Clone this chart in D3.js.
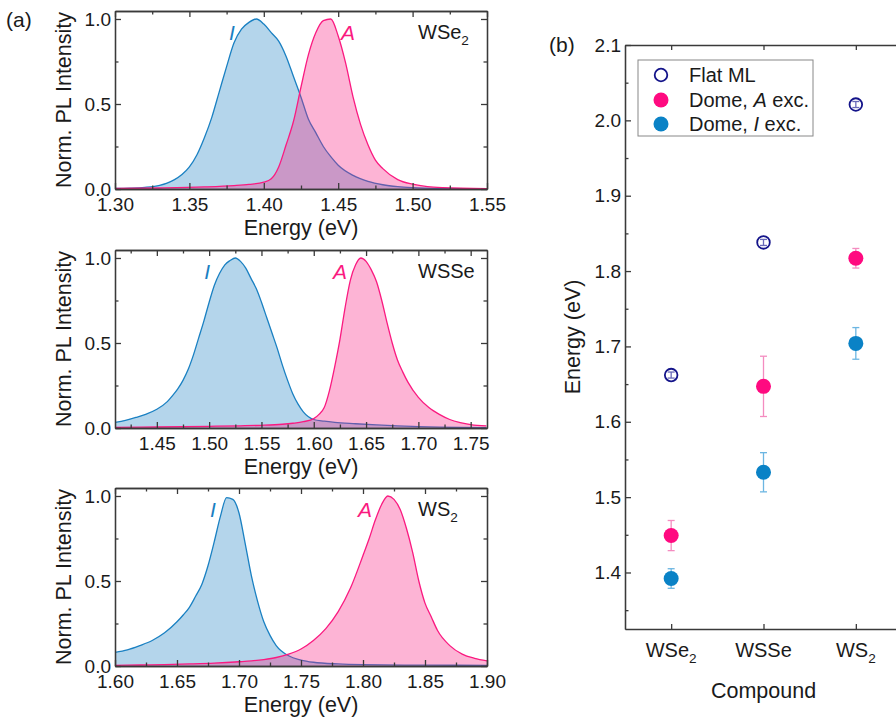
<!DOCTYPE html>
<html>
<head>
<meta charset="utf-8">
<script src="https://cdn.jsdelivr.net/npm/d3@7"></script>
<style>
  body { margin: 0; background: #fff; }
  text { font-family: "Liberation Sans", Arial, sans-serif; fill: #1a1a1a; }
</style>
</head>
<body>
<svg id="chart" width="896" height="718"></svg>
<script>
// ---- panel (a): normalized PL spectra ----
// WSe2
const wse2IEnergy = [1.30, 1.31, 1.32, 1.33, 1.335, 1.34, 1.345, 1.35, 1.355, 1.36, 1.365, 1.37, 1.375, 1.38, 1.385, 1.39, 1.395, 1.40, 1.405, 1.41, 1.415, 1.42, 1.425, 1.43, 1.435, 1.44, 1.445, 1.45, 1.46, 1.47, 1.48, 1.49, 1.50, 1.52, 1.55];
const wse2IIntensity = [0.003, 0.005, 0.01, 0.022, 0.035, 0.055, 0.085, 0.13, 0.2, 0.3, 0.42, 0.57, 0.72, 0.86, 0.94, 0.98, 1.0, 0.97, 0.92, 0.87, 0.78, 0.66, 0.54, 0.41, 0.33, 0.25, 0.19, 0.14, 0.08, 0.045, 0.025, 0.014, 0.008, 0.003, 0.001];
const wse2AEnergy = [1.30, 1.33, 1.36, 1.38, 1.39, 1.40, 1.405, 1.41, 1.415, 1.42, 1.425, 1.43, 1.435, 1.44, 1.445, 1.45, 1.455, 1.46, 1.465, 1.47, 1.475, 1.48, 1.49, 1.50, 1.51, 1.52, 1.55];
const wse2AIntensity = [0.003, 0.006, 0.012, 0.02, 0.027, 0.04, 0.06, 0.13, 0.26, 0.4, 0.6, 0.79, 0.92, 0.99, 1.0, 0.9, 0.74, 0.54, 0.38, 0.26, 0.17, 0.12, 0.055, 0.028, 0.014, 0.008, 0.002];

// WSSe
const wsseIEnergy = [1.41, 1.42, 1.43, 1.44, 1.45, 1.46, 1.465, 1.47, 1.475, 1.48, 1.485, 1.49, 1.495, 1.50, 1.505, 1.51, 1.515, 1.52, 1.525, 1.53, 1.535, 1.54, 1.545, 1.55, 1.555, 1.56, 1.565, 1.57, 1.575, 1.58, 1.585, 1.59, 1.60, 1.61, 1.62, 1.64, 1.66, 1.68, 1.70, 1.72, 1.74, 1.765];
const wsseIIntensity = [0.033, 0.045, 0.062, 0.082, 0.11, 0.155, 0.19, 0.23, 0.28, 0.345, 0.43, 0.53, 0.63, 0.74, 0.84, 0.91, 0.96, 0.985, 1.0, 0.98, 0.94, 0.88, 0.82, 0.74, 0.65, 0.56, 0.47, 0.37, 0.28, 0.2, 0.14, 0.095, 0.05, 0.04, 0.033, 0.025, 0.018, 0.012, 0.008, 0.005, 0.003, 0.002];
const wsseAEnergy = [1.41, 1.45, 1.50, 1.53, 1.55, 1.57, 1.58, 1.59, 1.60, 1.605, 1.61, 1.615, 1.62, 1.625, 1.63, 1.635, 1.64, 1.645, 1.65, 1.655, 1.66, 1.665, 1.67, 1.675, 1.68, 1.685, 1.69, 1.70, 1.71, 1.72, 1.73, 1.74, 1.75, 1.765];
const wsseAIntensity = [0.004, 0.006, 0.01, 0.013, 0.016, 0.022, 0.028, 0.037, 0.055, 0.08, 0.12, 0.22, 0.36, 0.52, 0.71, 0.87, 0.96, 1.0, 0.98, 0.93, 0.86, 0.75, 0.62, 0.5, 0.4, 0.33, 0.27, 0.18, 0.12, 0.08, 0.05, 0.032, 0.02, 0.012];

// WS2
const ws2IEnergy = [1.60, 1.61, 1.62, 1.63, 1.64, 1.65, 1.655, 1.66, 1.665, 1.67, 1.675, 1.68, 1.685, 1.69, 1.695, 1.70, 1.705, 1.71, 1.715, 1.72, 1.725, 1.73, 1.74, 1.75, 1.76, 1.78, 1.80, 1.85, 1.90];
const ws2IIntensity = [0.08, 0.095, 0.12, 0.15, 0.195, 0.26, 0.3, 0.345, 0.41, 0.48, 0.59, 0.73, 0.88, 0.99, 0.98, 0.9, 0.72, 0.53, 0.38, 0.26, 0.18, 0.12, 0.06, 0.035, 0.022, 0.012, 0.008, 0.005, 0.004];
const ws2AEnergy = [1.60, 1.62, 1.64, 1.66, 1.68, 1.70, 1.71, 1.72, 1.73, 1.74, 1.75, 1.76, 1.77, 1.78, 1.79, 1.80, 1.805, 1.81, 1.815, 1.82, 1.825, 1.83, 1.835, 1.84, 1.845, 1.85, 1.855, 1.86, 1.87, 1.88, 1.89, 1.90];
const ws2AIntensity = [0.004, 0.006, 0.008, 0.012, 0.017, 0.025, 0.03, 0.038, 0.05, 0.07, 0.1, 0.15, 0.22, 0.32, 0.46, 0.65, 0.75, 0.86, 0.95, 1.0, 0.98, 0.92, 0.81, 0.67, 0.5, 0.37, 0.29, 0.21, 0.12, 0.07, 0.045, 0.03];

// x tick labels of each spectrum panel
const wse2Ticks = [1.30, 1.35, 1.40, 1.45, 1.50, 1.55];
const wsseTicks = [1.45, 1.50, 1.55, 1.60, 1.65, 1.70, 1.75];
const ws2Ticks = [1.60, 1.65, 1.70, 1.75, 1.80, 1.85, 1.90];
const plTicks = [0.0, 0.5, 1.0];

// ---- panel (b): peak energies per compound ----
const compounds = [["WSe", "2"], ["WSSe", ""], ["WS", "2"]];
const flatML = [1.662, 1.838, 2.021];
const flatMLErr = [0.004, 0.004, 0.004];
const domeA = [1.449, 1.647, 1.817];
const domeAErr = [0.020, 0.040, 0.013];
const domeI = [1.392, 1.533, 1.704];
const domeIErr = [0.013, 0.026, 0.021];
const energyTicks = [1.4, 1.5, 1.6, 1.7, 1.8, 1.9, 2.0, 2.1];

const blue = "#1a80c2", pink = "#fa1a80";
const tickFont = 19, titleFont = 21.5;
const svg = d3.select("#chart");

// small helper for chemical formulas with a subscript
function formula(sel, base, sub, size) {
  sel.append("tspan").text(base);
  if (sub) sel.append("tspan").attr("font-size", size * 0.68).attr("dy", size * 0.3).text(sub);
}

function styleAxis(a) {
  a.selectAll("path,line").attr("stroke", "#3a3a3a").attr("stroke-width", 1.3);
  a.selectAll("text").attr("font-size", tickFont).attr("fill", "#1a1a1a")
    .attr("font-family", '"Liberation Sans", Arial, sans-serif');
}

// -------- panel (a) --------
const panels = [
  { top: 11, dom: [1.30, 1.55], ticks: wse2Ticks, name: ["WSe", "2"], lblI: 1.3786, lblA: 1.4566,
    I: [wse2IEnergy, wse2IIntensity], A: [wse2AEnergy, wse2AIntensity] },
  { top: 250, dom: [1.41, 1.7656], ticks: wsseTicks, name: ["WSSe", ""], lblI: 1.498, lblA: 1.625,
    I: [wsseIEnergy, wsseIIntensity], A: [wsseAEnergy, wsseAIntensity] },
  { top: 488, dom: [1.60, 1.90], ticks: ws2Ticks, name: ["WS", "2"], lblI: 1.679, lblA: 1.8016,
    I: [ws2IEnergy, ws2IIntensity], A: [ws2AEnergy, ws2AIntensity] }
];

const left = 115, right = 487, ph = 178;

panels.forEach((p, k) => {
  const g = svg.append("g");
  const x = d3.scaleLinear().domain(p.dom).range([left, right]);
  const y = d3.scaleLinear().domain([0, 1.047]).range([p.top + ph, p.top]);

  g.append("clipPath").attr("id", "clip" + k)
    .append("rect").attr("x", left).attr("y", p.top).attr("width", right - left).attr("height", ph);

  const curves = g.append("g").attr("clip-path", "url(#clip" + k + ")");
  [[p.I, blue], [p.A, pink]].forEach(([s, col]) => {
    const pts = s[0].map((e, i) => [e, s[1][i]]);
    curves.append("path").datum(pts)
      .attr("fill", col).attr("fill-opacity", 0.33)
      .attr("d", d3.area().x(d => x(d[0])).y0(y(0)).y1(d => y(d[1])).curve(d3.curveMonotoneX));
    curves.append("path").datum(pts)
      .attr("fill", "none").attr("stroke", col).attr("stroke-width", 1.3)
      .attr("d", d3.line().x(d => x(d[0])).y(d => y(d[1])).curve(d3.curveMonotoneX));
  });

  // minor ticks sit halfway between the labelled ones
  const minorX = [];
  const step = 0.05;
  for (let v = p.ticks[0] - step / 2; v < p.dom[1]; v += step) if (v > p.dom[0]) minorX.push(v);
  const minorY = [0.25, 0.75];

  const axes = [
    [d3.axisBottom(x).tickValues(p.ticks).tickFormat(d3.format(".2f")), 0, p.top + ph, true, 9],
    [d3.axisBottom(x).tickValues(minorX).tickFormat(""), 0, p.top + ph, false, 0],
    [d3.axisTop(x).tickValues(p.ticks).tickFormat(""), 0, p.top, true, 0],
    [d3.axisTop(x).tickValues(minorX).tickFormat(""), 0, p.top, false, 0],
    [d3.axisLeft(y).tickValues(plTicks).tickFormat(d3.format(".1f")), left, 0, true, 4],
    [d3.axisLeft(y).tickValues(minorY).tickFormat(""), left, 0, false, 0],
    [d3.axisRight(y).tickValues(plTicks).tickFormat(""), right, 0, true, 0],
    [d3.axisRight(y).tickValues(minorY).tickFormat(""), right, 0, false, 0]
  ];
  axes.forEach(([ax, tx, ty, major, pad]) => {
    const a = g.append("g").attr("transform", `translate(${tx},${ty})`)
      .call(ax.tickSize(major ? -6 : -3.5).tickSizeOuter(0).tickPadding(pad));
    styleAxis(a);
  });

  // axis titles
  g.append("text").attr("x", (left + right) / 2).attr("y", p.top + ph + 46)
    .attr("text-anchor", "middle").attr("font-size", titleFont).text("Energy (eV)");
  g.append("text").attr("transform", `translate(71,${p.top + ph / 2}) rotate(-90)`)
    .attr("text-anchor", "middle").attr("font-size", titleFont).text("Norm. PL Intensity");

  // peak labels and compound
  g.append("text").attr("x", x(p.lblI)).attr("y", p.top + 29).attr("text-anchor", "middle")
    .attr("font-size", 21).attr("font-style", "italic").style("fill", blue).text("I");
  g.append("text").attr("x", x(p.lblA)).attr("y", p.top + 29).attr("text-anchor", "middle")
    .attr("font-size", 21).attr("font-style", "italic").style("fill", pink).text("A");
  const nm = g.append("text").attr("x", 418).attr("y", p.top + 28).attr("font-size", 20);
  formula(nm, p.name[0], p.name[1], 20);
});

svg.append("text").attr("x", 6).attr("y", 27).attr("font-size", 21).text("(a)");

// -------- panel (b) --------
const xb = d3.scaleLinear().domain([0.5, 3.5]).range([625, 902]);
const yb = d3.scaleLinear().domain([1.325, 2.1]).range([629, 45]);
const gb = svg.append("g");

const minorE = energyTicks.map(v => v - 0.05);
const axesB = [
  [d3.axisLeft(yb).tickValues(energyTicks).tickFormat(d3.format(".1f")), 625, 0, -6, 4],
  [d3.axisLeft(yb).tickValues(minorE).tickFormat(""), 625, 0, -3.5, 0],
  [d3.axisBottom(xb).tickValues([1, 2, 3]).tickFormat(""), 0, 629, -5, 0],
  [d3.axisTop(xb).tickValues([1, 2, 3]).tickFormat(""), 0, 45, -5, 0]
];
axesB.forEach(([ax, tx, ty, ts, pad]) => {
  const a = gb.append("g").attr("transform", `translate(${tx},${ty})`)
    .call(ax.tickSize(ts).tickSizeOuter(0).tickPadding(pad));
  styleAxis(a);
});

compounds.forEach((c, i) => {
  const t = gb.append("text").attr("x", xb(i + 1)).attr("y", 657).attr("text-anchor", "middle").attr("font-size", 20);
  formula(t, c[0], c[1], 20);
});
gb.append("text").attr("x", xb(2)).attr("y", 698).attr("text-anchor", "middle").attr("font-size", titleFont).text("Compound");
gb.append("text").attr("transform", `translate(580,337) rotate(-90)`)
  .attr("text-anchor", "middle").attr("font-size", titleFont).text("Energy (eV)");
svg.append("text").attr("x", 549).attr("y", 52).attr("font-size", 21).text("(b)");

const series = [
  { vals: domeA, errs: domeAErr, fill: "#ff0a80", err: "#f48cc0", open: false },
  { vals: domeI, errs: domeIErr, fill: "#0a82c6", err: "#6cb6e2", open: false },
  { vals: flatML, errs: flatMLErr, fill: "#14148a", err: "#6a6ab8", open: true }
];
series.forEach(s => {
  const sg = gb.append("g");
  s.vals.forEach((v, i) => {
    const cx = xb(i + 1), lo = yb(v - s.errs[i]), hi = yb(v + s.errs[i]);
    sg.append("line").attr("x1", cx).attr("x2", cx).attr("y1", lo).attr("y2", hi).attr("stroke", s.err).attr("stroke-width", 1.3);
    [lo, hi].forEach(yy => sg.append("line").attr("x1", cx - 3.5).attr("x2", cx + 3.5).attr("y1", yy).attr("y2", yy)
      .attr("stroke", s.err).attr("stroke-width", 1.3));
  });
  sg.selectAll("circle").data(s.vals).join("circle")
    .attr("cx", (d, i) => xb(i + 1)).attr("cy", d => yb(d))
    .attr("r", s.open ? 6.3 : 7.5)
    .attr("fill", s.open ? "none" : s.fill)
    .attr("stroke", s.open ? s.fill : "none").attr("stroke-width", 1.8);
});

// legend
const lg = gb.append("g");
lg.append("rect").attr("x", 638).attr("y", 60).attr("width", 175).attr("height", 76)
  .attr("fill", "#fff").attr("stroke", "#888").attr("stroke-width", 1);
const legendRows = [
  [75, "#14148a", true, [["Flat ML", false]]],
  [100, "#ff0a80", false, [["Dome, ", false], ["A", true], [" exc.", false]]],
  [124, "#0a82c6", false, [["Dome, ", false], ["I", true], [" exc.", false]]]
];
legendRows.forEach(([yy, col, open, parts]) => {
  lg.append("circle").attr("cx", 661).attr("cy", yy).attr("r", open ? 6.3 : 7.5)
    .attr("fill", open ? "none" : col).attr("stroke", open ? col : "none").attr("stroke-width", 1.8);
  const t = lg.append("text").attr("x", 689).attr("y", yy + 7).attr("font-size", 20);
  parts.forEach(([s, it]) => t.append("tspan").attr("font-style", it ? "italic" : "normal").text(s));
});
</script>
</body>
</html>
